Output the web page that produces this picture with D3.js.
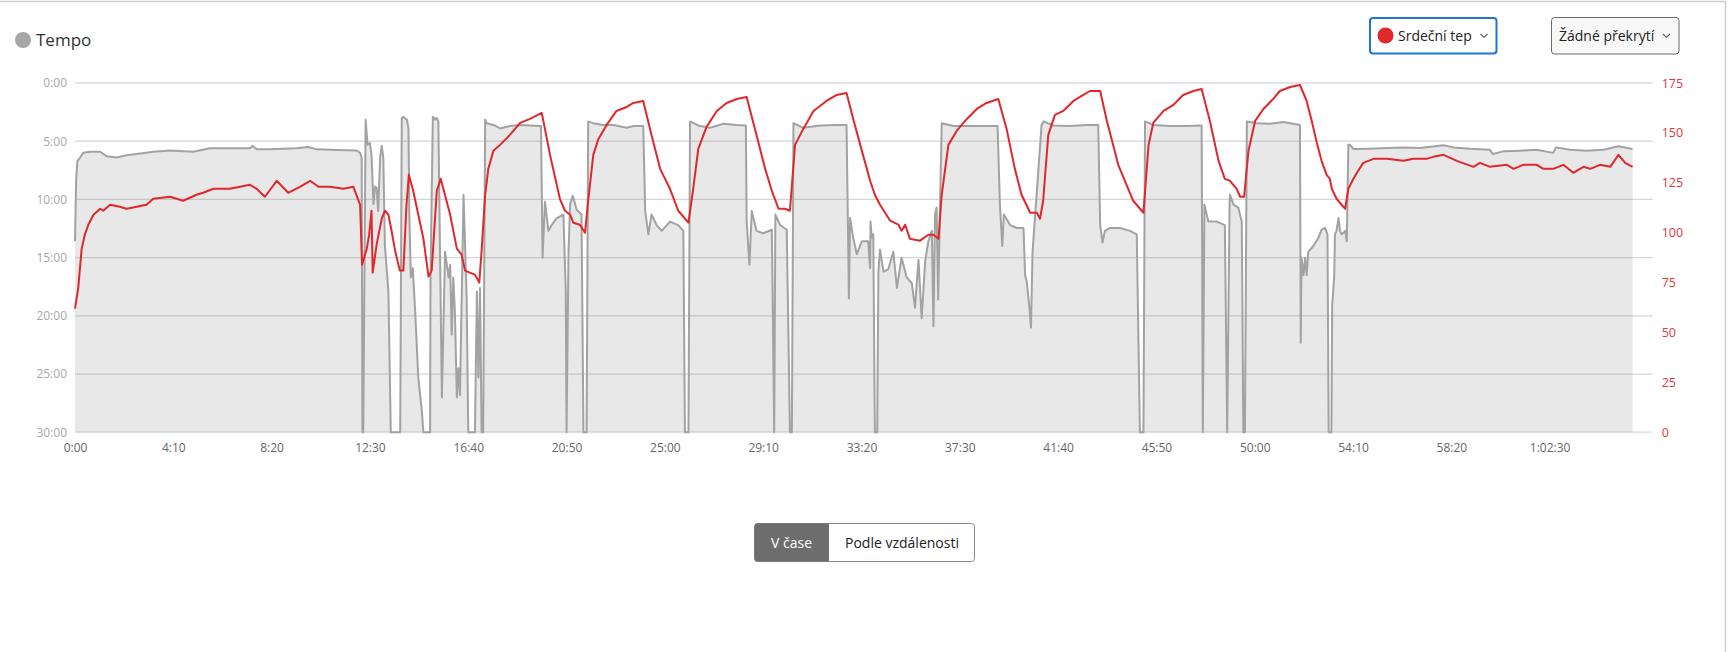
<!DOCTYPE html>
<html>
<head>
<meta charset="utf-8">
<script src="https://cdn.jsdelivr.net/npm/d3@7"></script>
<style>
  body { margin: 0; background: #fff; font-family: "Open Sans", sans-serif; }
  svg { display: block; }
</style>
</head>
<body>
<div id="root"></div>
<script>
// pace samples: time (s) and pace (min/km, 30 = stopped / off the scale)
const paceTime = [0, 3, 6, 13, 21, 38, 64, 81, 106, 131, 157, 199, 242, 301, 343, 394, 445, 452, 462, 496, 564, 593, 615, 665, 716, 725, 729,
  731, 733, 739, 744, 750, 754, 759, 763, 767, 771, 776, 780, 784, 788, 797, 803, 827, 831, 835, 844, 848, 850, 854, 859, 865, 873, 882, 886,
  903, 904, 910, 916, 920, 924, 928, 933, 941, 950, 954, 958, 962, 966, 971, 975, 979, 988, 996, 1000, 1017, 1022, 1026, 1030, 1034, 1038,
  1043, 1047, 1064, 1081, 1106, 1132, 1157, 1185, 1189, 1195, 1204, 1212, 1225, 1242, 1248, 1250, 1255, 1259, 1266, 1276, 1288, 1293, 1301,
  1305, 1318, 1344, 1369, 1403, 1420, 1445, 1450, 1458, 1466, 1479, 1492, 1513, 1534, 1547, 1551, 1560,
  1564, 1589, 1615, 1649, 1683, 1706, 1708, 1715, 1721, 1733, 1750, 1772, 1774, 1778, 1781, 1793, 1810, 1818, 1823,
  1827, 1852, 1895, 1937, 1962, 1968, 1971, 1979, 1988, 2001, 2017, 2022, 2023, 2026, 2030, 2034, 2040,
  2043, 2047, 2056, 2068, 2081, 2090, 2102, 2115, 2128, 2136, 2145, 2153, 2162, 2170, 2179, 2183, 2187, 2191, 2195, 2200,
  2204, 2234, 2276, 2318, 2346, 2352, 2358, 2362, 2378, 2395, 2412, 2416, 2420, 2427, 2431, 2435, 2441,
  2458, 2463, 2488, 2530, 2573, 2602, 2607, 2613, 2619, 2632, 2657, 2683, 2700, 2708, 2717,
  2721, 2742, 2785, 2827, 2865, 2868, 2872, 2882, 2903, 2924, 2930, 2936, 2937, 2946, 2958, 2967, 2971, 2975,
  2980, 3005, 3039, 3073, 3115, 3117, 3119, 3124, 3128, 3132, 3136, 3149, 3162, 3170, 3179, 3185, 3188, 3195,
  3197, 3202, 3204, 3208, 3213, 3217, 3221, 3230, 3234, 3238, 3242, 3251, 3293, 3336, 3378, 3420, 3480, 3505, 3548,
  3598, 3605, 3632, 3675, 3717, 3759, 3766, 3802, 3844, 3887, 3925, 3961];
const paceMin = [13.6, 8.2, 6.7, 6.4, 6.0, 5.9, 5.9, 6.3, 6.4, 6.2, 6.1, 5.9, 5.8, 5.9, 5.6, 5.6, 5.6, 5.4, 5.7, 5.7, 5.6, 5.5, 5.7, 5.75, 5.8, 6.0, 6.4,
  30, 30, 3.15, 5.3, 5.15, 6.2, 10.4, 8.9, 9.0, 11.0, 6.4, 5.4, 6.4, 13.9, 17.9, 30, 30, 3.0, 2.9, 3.15, 3.9, 11.0, 16.7, 15.9, 19.6, 25.3, 28.2, 30,
  30, 16.7, 2.9, 3.15, 3.0, 3.3, 13.9, 27, 14.5, 16.7, 15.6, 21.6, 16.7, 19.6, 27, 24.5, 26.8, 9.6, 18.5, 30, 30, 17.9, 25.3, 17.6, 30, 30,
  3.15, 3.45, 3.6, 3.9, 3.7, 3.6, 3.65, 3.7, 15.0, 10.2, 12.7, 12.2, 11.6, 11.3, 17.9, 30, 14.5, 10.4, 9.7, 10.9, 11.3, 30, 30,
  3.3, 3.45, 3.6, 3.6, 3.85, 3.7, 3.7, 11.0, 13.0, 11.3, 12.2, 12.7, 11.9, 12.2, 12.7, 30, 30,
  3.3, 3.7, 3.85, 3.5, 3.6, 3.65, 11.9, 15.6, 11.0, 12.7, 12.9, 12.6, 17.9, 30, 11.3, 12.2, 12.6, 30, 30,
  3.45, 3.85, 3.65, 3.6, 3.6, 18.5, 11.6, 13.3, 14.7, 13.6, 13.6, 15.9, 11.9, 13.3, 13.0, 30, 30,
  16.2, 14.3, 16.2, 16.0, 14.5, 17.6, 15.0, 16.7, 17.2, 19.3, 15.2, 20.2, 15.3, 13.6, 12.7, 20.9, 11.3, 10.7, 18.6, 10.2,
  3.45, 3.7, 3.7, 3.7, 3.7, 10.4, 14.0, 11.3, 12.2, 12.45, 12.45, 16.5, 17.0, 19.3, 21.0, 14.5, 11.6,
  3.6, 3.3, 3.65, 3.7, 3.6, 3.6, 12.2, 13.7, 12.7, 12.45, 12.45, 12.7, 13.0, 30, 30,
  3.3, 3.6, 3.7, 3.7, 3.65, 30, 10.45, 11.9, 11.9, 12.2, 30, 10.45, 9.6, 10.45, 10.7, 11.9, 30, 30,
  3.3, 3.45, 3.5, 3.35, 3.6, 22.3, 15.0, 16.5, 15.0, 16.5, 14.5, 14.0, 13.3, 12.6, 12.45, 13.0, 30, 30,
  19.0, 16.7, 13.0, 12.7, 11.6, 12.7, 13.0, 12.7, 13.6, 5.3, 5.3, 5.67, 5.64, 5.58, 5.53, 5.58, 5.35, 5.53, 5.64,
  5.73, 6.1, 5.87, 5.81, 5.73, 6.0, 5.53, 5.73, 5.81, 5.73, 5.44, 5.67];

// heart rate samples: time (s) and bpm
const hrTime = [0, 8, 17, 25, 34, 47, 64, 72, 89, 114, 131, 157, 182, 199, 242, 275, 309, 326, 352, 394, 445, 462, 483, 513, 542, 572, 598, 619,
  648, 682, 708, 725, 730, 742, 748, 754, 757, 767, 780, 788, 797, 805, 814, 826, 835, 843, 849, 860, 873, 886, 899, 907, 920, 930, 954, 971,
  983, 992, 1004, 1017, 1028, 1034, 1043, 1051, 1064, 1081, 1106, 1132, 1157, 1187, 1195, 1208, 1225, 1233, 1246, 1259, 1267, 1284, 1297,
  1305, 1318, 1331, 1352, 1377, 1403, 1420, 1445, 1466, 1488, 1513, 1534, 1560, 1572, 1585, 1606, 1632, 1657, 1683, 1708, 1733, 1755, 1772,
  1789, 1805, 1818, 1831, 1852, 1878, 1911, 1937, 1962, 1979, 2001, 2022, 2034, 2047, 2073, 2094, 2102, 2111, 2123, 2149, 2170, 2183, 2196,
  2204, 2221, 2242, 2268, 2293, 2318, 2348, 2369, 2390, 2407, 2429, 2446, 2454, 2462, 2475, 2492, 2513, 2539, 2564, 2581, 2607, 2624, 2653,
  2674, 2691, 2717, 2730, 2742, 2768, 2793, 2818, 2844, 2865, 2886, 2908, 2924, 2937, 2954, 2963, 2973, 2984, 3001, 3022, 3047, 3064, 3090,
  3115, 3132, 3145, 3158, 3170, 3183, 3191, 3196, 3208, 3221, 3230, 3238, 3251, 3263, 3276, 3302, 3336, 3378, 3403, 3437, 3454, 3480, 3514,
  3556, 3573, 3598, 3641, 3658, 3683, 3717, 3734, 3759, 3785, 3810, 3836, 3853, 3878, 3904, 3925, 3942, 3961];
const hrBpm = [62, 72, 92, 99, 104, 109, 112, 111, 114, 113, 112, 113, 114, 117, 118, 116, 119, 120, 122, 122, 124, 122, 118, 126, 120, 123, 126, 123,
  123, 122, 123, 114, 84, 92, 99, 111, 80, 94, 107, 111, 109, 101, 91, 81, 81, 114, 129, 121, 109, 97, 78, 81, 121, 127, 109, 92,
  89, 81, 80, 79, 75, 91, 119, 132, 141, 144, 149, 155, 157, 160, 152, 139, 124, 117, 111, 109, 105, 104, 100,
  116, 139, 147, 154, 161, 163, 165, 166, 149, 132, 122, 111, 105, 122, 142, 153, 161, 165, 167, 168, 149, 132, 121,
  112, 112, 111, 144, 152, 161, 166, 169, 170, 157, 141, 126, 119, 114, 106, 104, 101, 104, 97, 96, 99, 99, 97,
  119, 144, 151, 157, 162, 165, 167, 152, 132, 119, 110, 110, 107, 116, 149, 159, 161, 166, 169, 171, 171, 156, 134,
  124, 116, 110, 144, 155, 161, 164, 169, 171, 172, 156, 136, 127, 126, 122, 118, 118, 141, 156, 162, 167, 171, 173,
  174, 166, 156, 145, 136, 129, 127, 122, 117, 114, 112, 122, 127, 131, 135, 137, 137, 136, 137, 137, 138, 139, 136,
  133, 135, 133, 134, 132, 134, 134, 132, 132, 134, 130, 133, 132, 134, 133, 139, 135, 133];

const paceTicks = [0, 5, 10, 15, 20, 25, 30];
const paceTickLabels = ["0:00", "5:00", "10:00", "15:00", "20:00", "25:00", "30:00"];
const hrTicks = [175, 150, 125, 100, 75, 50, 25, 0];
const timeTicks = [0, 250, 500, 750, 1000, 1250, 1500, 1750, 2000, 2250, 2500, 2750, 3000, 3250, 3500, 3750];
const timeTickLabels = ["0:00", "4:10", "8:20", "12:30", "16:40", "20:50", "25:00", "29:10", "33:20", "37:30", "41:40",
  "45:50", "50:00", "54:10", "58:20", "1:02:30"];

var width = 1729;
var height = 652;

var svg = d3.select("#root").append("svg")
  .attr("width", width)
  .attr("height", height);

// card border (top and right)
svg.append("line").attr("x1", 0).attr("x2", 1725.5).attr("y1", 1.5).attr("y2", 1.5)
  .attr("stroke", "#cfcfcf").attr("stroke-width", 1.5);
svg.append("line").attr("x1", 1725.5).attr("x2", 1725.5).attr("y1", 1).attr("y2", height)
  .attr("stroke", "#cfcfcf").attr("stroke-width", 1.5);

var xScale = d3.scaleLinear().domain([0, 4012]).range([75, 1652.7]);
var yPace = d3.scaleLinear().domain([0, 30]).range([83, 432.3]);
var yHr = d3.scaleLinear().domain([0, 175]).range([432.3, 83]);

// gridlines
svg.append("g")
  .selectAll("line")
  .data(paceTicks)
  .enter()
  .append("line")
  .attr("x1", 75)
  .attr("x2", 1652.7)
  .attr("y1", (d) => yPace(d))
  .attr("y2", (d) => yPace(d))
  .attr("stroke", (d) => (d === 0 || d === 30 ? "#e4e4e4" : "#d6d6d6"))
  .attr("stroke-width", (d) => (d === 0 || d === 30 ? 2 : 1.2));

// pace area + line
var pacePts = paceTime.map((t, i) => [t, Math.min(paceMin[i], 30)]);
var area = d3.area()
  .x((d) => xScale(d[0]))
  .y0(yPace(30))
  .y1((d) => yPace(d[1]));
svg.append("path")
  .datum(pacePts)
  .attr("d", area)
  .attr("fill", "rgba(120,120,120,0.17)");
svg.append("path")
  .datum(pacePts)
  .attr("d", d3.line().x((d) => xScale(d[0])).y((d) => yPace(d[1])))
  .attr("fill", "none")
  .attr("stroke", "#a2a2a2")
  .attr("stroke-width", 2)
  .attr("stroke-linejoin", "round");

// heart rate line
var hrPts = hrTime.map((t, i) => [t, hrBpm[i]]);
svg.append("path")
  .datum(hrPts)
  .attr("d", d3.line().x((d) => xScale(d[0])).y((d) => yHr(d[1])))
  .attr("fill", "none")
  .attr("stroke", "#e0272c")
  .attr("stroke-width", 2)
  .attr("stroke-linejoin", "round");

// axes
var yAxisLeft = d3.axisLeft(yPace)
  .tickValues(paceTicks)
  .tickFormat((d, i) => paceTickLabels[i])
  .tickSize(0)
  .tickPadding(8);
var gl = svg.append("g").attr("transform", "translate(75,0)").call(yAxisLeft);
gl.select(".domain").remove();
gl.selectAll("text").attr("fill", "#a8a8a8").style("font-size", "12px").style("font-family", "Open Sans");

var yAxisRight = d3.axisRight(yHr)
  .tickValues(hrTicks)
  .tickSize(0)
  .tickPadding(9);
var gr = svg.append("g").attr("transform", "translate(1652.7,0)").call(yAxisRight);
gr.select(".domain").remove();
gr.selectAll("text").attr("fill", "#e0383c").style("font-size", "12.5px").style("font-family", "Open Sans");

var xAxis = d3.axisBottom(xScale)
  .tickValues(timeTicks)
  .tickFormat((d, i) => timeTickLabels[i])
  .tickSize(0)
  .tickPadding(11.5);
var gx = svg.append("g").attr("transform", "translate(0,432.3)").call(xAxis);
gx.select(".domain").remove();
gx.selectAll("text").attr("fill", "#666").style("font-size", "12px").style("font-family", "Open Sans");

// legend
svg.append("circle").attr("cx", 23).attr("cy", 40).attr("r", 8).attr("fill", "#a6a6a6");
svg.append("text").attr("x", 36).attr("y", 46).attr("font-size", 17).attr("fill", "#333")
  .style("font-family", "Open Sans").text("Tempo");

// dropdowns
function chevron(cx, cy) {
  svg.append("path")
    .attr("d", "M" + (cx - 3.5) + "," + (cy - 1.5) + " L" + cx + "," + (cy + 1.8) + " L" + (cx + 3.5) + "," + (cy - 1.5))
    .attr("fill", "none").attr("stroke", "#555").attr("stroke-width", 1.1);
}
svg.append("rect").attr("x", 1370).attr("y", 18).attr("width", 126.5).attr("height", 35.5).attr("rx", 3)
  .attr("fill", "#fff").attr("stroke", "#1f74d6").attr("stroke-width", 2);
svg.append("circle").attr("cx", 1385.5).attr("cy", 35.5).attr("r", 8).attr("fill", "#e0282d");
svg.append("text").attr("x", 1398).attr("y", 41).attr("font-size", 14).attr("fill", "#222")
  .style("font-family", "Open Sans").text("Srdeční tep");
chevron(1484, 35.5);

svg.append("rect").attr("x", 1551.5).attr("y", 17.5).attr("width", 127.5).attr("height", 36.5).attr("rx", 3)
  .attr("fill", "#f8f8f8").attr("stroke", "#6a6a6a").attr("stroke-width", 1);
svg.append("text").attr("x", 1559).attr("y", 41).attr("font-size", 14).attr("fill", "#222")
  .style("font-family", "Open Sans").text("Žádné překrytí");
chevron(1666.5, 35.5);

// toggle buttons
var bx = 754.5, by = 523.5, bw = 220, bh = 38;
svg.append("rect").attr("x", bx).attr("y", by).attr("width", bw).attr("height", bh).attr("rx", 3)
  .attr("fill", "#fff").attr("stroke", "#8a8a8a").attr("stroke-width", 1);
svg.append("path")
  .attr("d", "M" + (bx + 3) + "," + by + " H829 V" + (by + bh) + " H" + (bx + 3) +
    " Q" + bx + "," + (by + bh) + " " + bx + "," + (by + bh - 3) + " V" + (by + 3) + " Q" + bx + "," + by + " " + (bx + 3) + "," + by + " Z")
  .attr("fill", "#6d6d6d");
svg.append("text").attr("x", 791.5).attr("y", 547.5).attr("text-anchor", "middle").attr("font-size", 14)
  .attr("fill", "#fff").style("font-family", "Open Sans").text("V čase");
svg.append("text").attr("x", 902).attr("y", 547.5).attr("text-anchor", "middle").attr("font-size", 14)
  .attr("fill", "#222").style("font-family", "Open Sans").text("Podle vzdálenosti");
</script>
</body>
</html>
